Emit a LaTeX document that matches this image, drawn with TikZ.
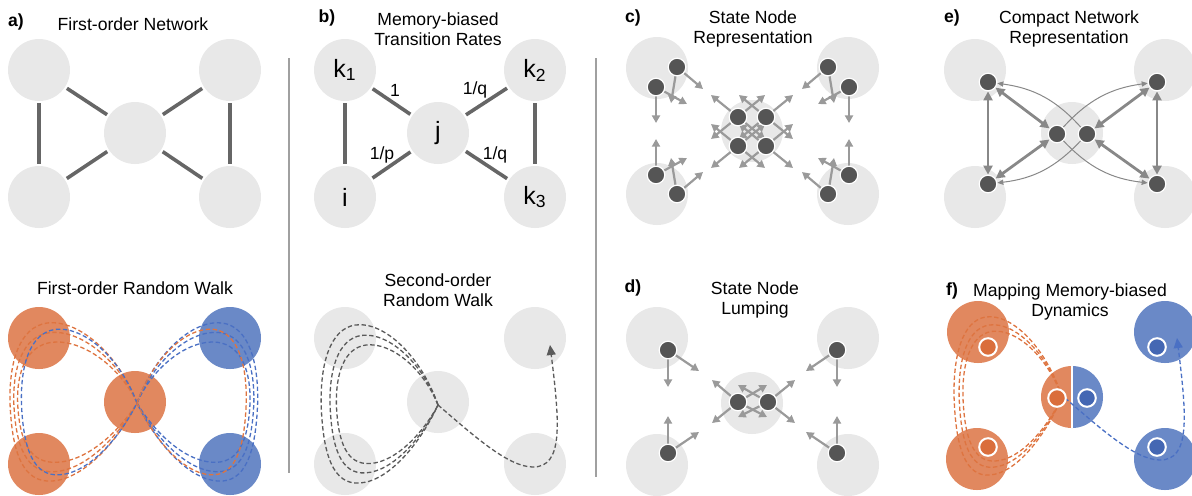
\documentclass[tikz,border=0pt]{standalone}
\usepackage{fontspec}
\setmainfont{Liberation Sans}
\usepackage{tikz}
\usetikzlibrary{arrows.meta}
\definecolor{lightg}{HTML}{E8E8E8}
\definecolor{edgeg}{HTML}{666666}
\definecolor{stateg}{HTML}{555555}
\definecolor{arrowg}{HTML}{9A9A9A}
\definecolor{tipg}{HTML}{888888}
\definecolor{sepg}{HTML}{A0A0A0}
\definecolor{walkg}{HTML}{5A5A5A}
\definecolor{orfill}{HTML}{E1885F}
\definecolor{ordark}{HTML}{DA6E3C}
\definecolor{ordash}{HTML}{DE7440}
\definecolor{blfill}{HTML}{6A89C7}
\definecolor{bldark}{HTML}{4467B3}
\definecolor{bldash}{HTML}{4A70C4}
\pgfdeclarelayer{bg}
\pgfdeclarelayer{mid}
\pgfsetlayers{bg,mid,main}
% one loop of a walk: options, crossing point, xscale, yscale
\newcommand{\walkloop}[4]{%
  \draw[#1, shift={(#2)}, xscale=#3, yscale=#4] (0,0)
    .. controls (-18,-48) and (-58,-84) .. (-90,-80)
    .. controls (-118,-76) and (-128,-40) .. (-127,0)
    .. controls (-125,50) and (-114,80) .. (-85,78)
    .. controls (-52,76) and (-18,36) .. (0,0);}
% last step of a walk, leaving the crossing point
\newcommand{\walkout}[2]{%
  \draw[#1, shift={(#2)}, -{Triangle[length=5pt,width=4.5pt]}] (0,0)
    .. controls (35,30) and (70,62) .. (95,62)
    .. controls (125,62) and (122,20) .. (112,-60);}

\begin{document}
\begin{tikzpicture}[x=0.5pt, y=-0.5pt,
  big/.style={circle, fill=lightg, minimum size=31pt, inner sep=0pt},
  bigtxt/.style={big, font=\fontsize{12.5}{14}\selectfont},
  orb/.style={big, fill=orfill},
  blb/.style={big, fill=blfill},
  state/.style={circle, fill=stateg, draw=white, line width=0.6pt, minimum size=8.8pt, inner sep=0pt},
  ostate/.style={state, fill=ordark, line width=1pt},
  bstate/.style={state, fill=bldark, line width=1pt},
  link/.style={draw=edgeg, line width=1.8pt, shorten <=1pt, shorten >=1pt},
  title/.style={font=\fontsize{8.8}{10.2}\selectfont, align=center},
  plabel/.style={font=\fontsize{8.8}{10.2}\selectfont\bfseries},
  divider/.style={draw=sepg, line width=0.6pt},
  walk/.style={line width=0.65pt, dash pattern=on 2.2pt off 1.3pt},
  garrow/.style={draw=arrowg, line width=1.1pt, -{Triangle[length=3.8pt,width=4pt]}},
  twoway/.style={draw=tipg, line width=1.4pt, {Triangle[length=4.5pt,width=4.5pt]}-{Triangle[length=4.5pt,width=4.5pt]}},
  oneway/.style={draw=tipg, line width=0.5pt, -{Triangle[length=3pt,width=2.6pt]}}
]
\useasboundingbox (0,0) rectangle (1192,495);

% titles
\node[plabel] (la) at (16,22) {a)};
\node[title] (ta) at (133,24) {First-order Network};
\node[title] (ta2) at (135,288) {First-order Random Walk};
\node[plabel] (lb) at (327,18) {b)};
\node[title] (tb) at (438,29) {Memory-biased\\Transition Rates};
\node[title] (tb2) at (438,290) {Second-order\\Random Walk};
\node[plabel] (lc) at (633,18) {c)};
\node[title] (tc) at (753,29) {State Node\\Representation};
\node[plabel] (ld) at (633,288) {d)};
\node[title] (td) at (755,300) {State Node\\Lumping};
\node[plabel] (le) at (952,18) {e)};
\node[title] (te) at (1069,29) {Compact Network\\Representation};
\node[plabel] (lf) at (952,291) {f)};
\node[title] (tf) at (1070,302) {Mapping Memory-biased\\Dynamics};

\draw[divider] (289,58) -- (289,473);
\draw[divider] (596,58) -- (596,477);

% a) first-order network
\node[big] (a1) at (39,70) {};
\node[big] (a2) at (230,70) {};
\node[big] (a3) at (135,133) {};
\node[big] (a4) at (39,197) {};
\node[big] (a5) at (230,197) {};
\draw[link] (a1) -- (a4);
\draw[link] (a1) -- (a3);
\draw[link] (a3) -- (a2);
\draw[link] (a4) -- (a3);
\draw[link] (a3) -- (a5);
\draw[link] (a2) -- (a5);

% a) first-order random walk
\node[orb] (r1) at (39,338) {};
\node[blb] (r2) at (230,338) {};
\node[orb] (r3) at (135,402) {};
\node[orb] (r4) at (39,464) {};
\node[blb] (r5) at (230,464) {};
\walkloop{ordash,walk}{137,403}{1}{1}
\walkloop{ordash,walk}{137,403}{0.97}{0.88}
\walkloop{ordash,walk}{137,403}{0.94}{0.76}
\walkloop{bldash,walk}{137,403}{0.91}{0.92}
\walkloop{bldash,walk}{137,403}{-0.95}{1}
\walkloop{bldash,walk}{137,403}{-0.92}{0.88}
\walkloop{bldash,walk}{137,403}{-0.89}{0.76}
\walkloop{ordash,walk}{137,403}{-0.86}{0.92}

% b) memory-biased rates
\node[bigtxt] (k1) at (345,70) {k\textsubscript{1}};
\node[bigtxt] (k2) at (535,70) {k\textsubscript{2}};
\node[bigtxt] (j) at (438,133) {j};
\node[bigtxt] (i) at (345,197) {i};
\node[bigtxt] (k3) at (535,197) {k\textsubscript{3}};
\draw[link] (k1) -- (i);
\draw[link] (k1) -- (j);
\draw[link] (j) -- (k2);
\draw[link] (i) -- (j);
\draw[link] (j) -- (k3);
\draw[link] (k2) -- (k3);
\node[title] (w1) at (395,90) {1};
\node[title] (w2) at (475,90) {1/q};
\node[title] (w3) at (382,155) {1/p};
\node[title] (w4) at (495,155) {1/q};

% b) second-order random walk
\node[big] (s1) at (345,338) {};
\node[big] (s2) at (535,338) {};
\node[big] (s3) at (438,402) {};
\node[big] (s4) at (345,464) {};
\node[big] (s5) at (535,464) {};
\walkloop{walkg,walk}{438,405}{0.92}{1}
\walkloop{walkg,walk}{438,405}{0.85}{0.87}
\walkloop{walkg,walk}{438,405}{0.8}{0.75}
\walkout{walkg,walk}{438,405}

% c) state node representation
\begin{pgfonlayer}{bg}
\node[big] (cn1) at (657,68) {};
\node[big] (cn2) at (848,68) {};
\node[big] (cn3) at (752,131) {};
\node[big] (cn4) at (657,194) {};
\node[big] (cn5) at (848,194) {};
\end{pgfonlayer}
\node[state] (cs1) at (677,67) {};
\node[state] (cs2) at (656,87) {};
\node[state] (cs3) at (656,175) {};
\node[state] (cs4) at (677,194) {};
\node[state] (cs5) at (828,67) {};
\node[state] (cs6) at (849,87) {};
\node[state] (cs7) at (849,175) {};
\node[state] (cs8) at (828,194) {};
\node[state] (cs9) at (738,117) {};
\node[state] (cs10) at (766,117) {};
\node[state] (cs11) at (738,146) {};
\node[state] (cs12) at (766,146) {};
\begin{pgfonlayer}{mid}
\draw[garrow] (cs1) -- +(26,22);
\draw[garrow] (cs1) -- +(-6,36);
\draw[garrow] (cs2) -- +(0,36);
\draw[garrow] (cs2) -- +(31,17);
\draw[garrow] (cs3) -- +(0,-36);
\draw[garrow] (cs3) -- +(31,-17);
\draw[garrow] (cs4) -- +(26,-22);
\draw[garrow] (cs4) -- +(-6,-36);
\draw[garrow] (cs5) -- +(-26,22);
\draw[garrow] (cs5) -- +(6,36);
\draw[garrow] (cs6) -- +(0,36);
\draw[garrow] (cs6) -- +(-31,17);
\draw[garrow] (cs7) -- +(0,-36);
\draw[garrow] (cs7) -- +(-31,-17);
\draw[garrow] (cs8) -- +(-26,-22);
\draw[garrow] (cs8) -- +(6,-36);
\foreach \n in {cs9,cs10,cs11,cs12}
  \foreach \dx/\dy in {-27/-22,27/-22,-27/22,27/22}
    \draw[garrow] (\n) -- +(\dx,\dy);
\end{pgfonlayer}

% d) state node lumping
\begin{pgfonlayer}{bg}
\node[big] (dn1) at (657,338) {};
\node[big] (dn2) at (848,338) {};
\node[big] (dn3) at (752,403) {};
\node[big] (dn4) at (657,465) {};
\node[big] (dn5) at (848,465) {};
\end{pgfonlayer}
\node[state] (ds1) at (668,350) {};
\node[state] (ds2) at (668,453) {};
\node[state] (ds3) at (837,350) {};
\node[state] (ds4) at (837,453) {};
\node[state] (ds5) at (738,402) {};
\node[state] (ds6) at (768,402) {};
\begin{pgfonlayer}{mid}
\draw[garrow] (ds1) -- +(0,37);
\draw[garrow] (ds1) -- +(31,21);
\draw[garrow] (ds2) -- +(0,-37);
\draw[garrow] (ds2) -- +(31,-21);
\draw[garrow] (ds3) -- +(0,37);
\draw[garrow] (ds3) -- +(-31,21);
\draw[garrow] (ds4) -- +(0,-37);
\draw[garrow] (ds4) -- +(-31,-21);
\foreach \dx/\dy in {-26/-22,-26/21,29/-17,29/15}
  \draw[garrow] (ds5) -- +(\dx,\dy);
\foreach \dx/\dy in {27/-22,27/21,-30/-17,-30/15}
  \draw[garrow] (ds6) -- +(\dx,\dy);
\end{pgfonlayer}

% e) compact network
\node[big] (en1) at (975,70) {};
\node[big] (en2) at (1165,70) {};
\node[big] (en3) at (1072,133) {};
\node[big] (en4) at (975,197) {};
\node[big] (en5) at (1165,197) {};
\node[state] (es1) at (988,82) {};
\node[state] (es2) at (988,184) {};
\node[state] (es3) at (1157,82) {};
\node[state] (es4) at (1157,184) {};
\node[state] (es5) at (1057,134) {};
\node[state] (es6) at (1087,134) {};
\draw[twoway] (es1) -- (es2);
\draw[twoway] (es3) -- (es4);
\draw[twoway] (es1) -- (es5);
\draw[twoway] (es2) -- (es5);
\draw[twoway] (es3) -- (es6);
\draw[twoway] (es4) -- (es6);
\draw[oneway] (es6) to[bend right=20] (es1);
\draw[oneway] (es6) to[bend left=20] (es2);
\draw[oneway] (es5) to[bend left=20] (es3);
\draw[oneway] (es5) to[bend right=20] (es4);

% f) mapping memory-biased dynamics
\node[orb] (f1) at (978,332) {};
\node[blb] (f2) at (1165,332) {};
\node[orb] (f4) at (977,459) {};
\node[blb] (f5) at (1165,459) {};
\begin{scope}
\clip (1030,350) rectangle (1072,445);
\node[orb] (f3a) at (1072,397) {};
\end{scope}
\begin{scope}
\clip (1072,350) rectangle (1115,445);
\node[blb] (f3b) at (1072,397) {};
\end{scope}
\draw[white, line width=1pt] (f3a.north) -- (f3a.south);
\walkloop{ordash,walk}{1062,397}{0.85}{1}
\walkloop{ordash,walk}{1062,397}{0.81}{0.9}
\walkloop{ordash,walk}{1062,397}{0.78}{0.82}
\walkout{bldash,walk}{1065,398}
\node[ostate] (fs1) at (988,347) {};
\node[ostate] (fs2) at (988,447) {};
\node[bstate] (fs3) at (1157,347) {};
\node[bstate] (fs4) at (1157,447) {};
\node[ostate] (fs5) at (1057,398) {};
\node[bstate] (fs6) at (1087,398) {};
\end{tikzpicture}
\end{document}
